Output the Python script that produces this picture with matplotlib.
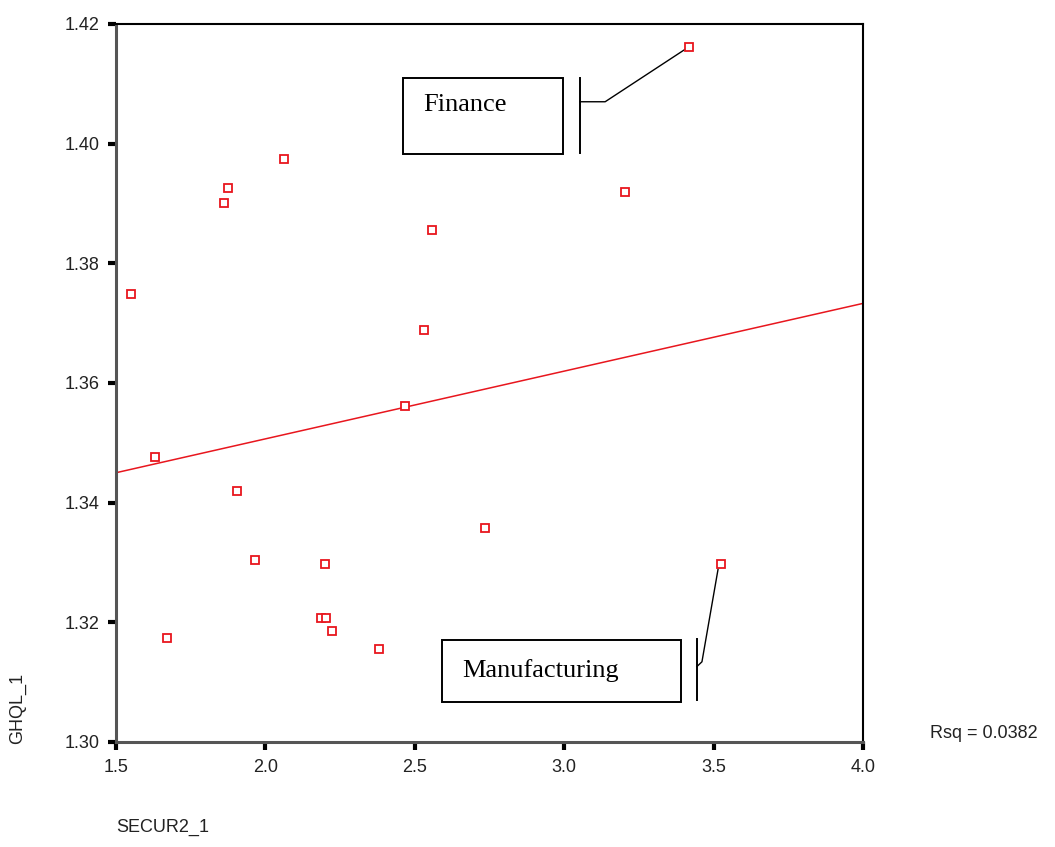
import numpy as np
import matplotlib
matplotlib.use("Agg")
import matplotlib.pyplot as plt
from matplotlib.patches import Rectangle

# --- data ---
secur2 = [3.418, 2.062, 1.875, 1.861, 3.203, 2.558, 1.550, 2.531, 2.467, 1.630,
          1.905, 2.735, 1.965, 2.199, 3.525, 2.186, 2.203, 2.223, 1.671, 2.380]
ghql = [1.4162, 1.3974, 1.3926, 1.3901, 1.3919, 1.3856, 1.3748, 1.3688, 1.3561, 1.3476,
        1.3419, 1.3357, 1.3304, 1.3297, 1.3297, 1.3208, 1.3208, 1.3185, 1.3173, 1.3155]

# fit line as drawn on the chart
fit_x = [1.5, 4.0]
fit_y = [1.3450, 1.3733]
rsq_text = "Rsq = 0.0382"

x_ticks = [1.5, 2.0, 2.5, 3.0, 3.5, 4.0]
y_ticks = [1.30, 1.32, 1.34, 1.36, 1.38, 1.40, 1.42]

fig = plt.figure(figsize=(10.55, 8.47), dpi=100)
ax = fig.add_axes([0.110, 0.124, 0.708, 0.8477])

red = "#e8161e"
sans = "Liberation Sans"
serif = "Liberation Serif"

ax.plot(fit_x, fit_y, color=red, lw=1.1, zorder=2)
ax.plot(secur2, ghql, linestyle="none", marker="s", markersize=5.5,
        markerfacecolor="white", markeredgecolor=red, markeredgewidth=1.3, zorder=3)

ax.set_xlim(1.5, 4.0)
ax.set_ylim(1.30, 1.42)
ax.set_xticks(x_ticks)
ax.set_yticks(y_ticks)
ax.set_xticklabels([f"{v:.1f}" for v in x_ticks])
ax.set_yticklabels([f"{v:.2f}" for v in y_ticks])

for side in ("left", "bottom"):
    ax.spines[side].set_color("#555555")
    ax.spines[side].set_linewidth(2.2)
for side in ("top", "right"):
    ax.spines[side].set_color("black")
    ax.spines[side].set_linewidth(1.5)

ax.tick_params(direction="out", length=6, width=3, color="black",
               labelsize=13, pad=6)
for lab in ax.get_xticklabels() + ax.get_yticklabels():
    lab.set_fontfamily(sans)
    lab.set_color("#222222")

# SPSS-style axis titles placed at the lower-left
fig.text(18 / 1055, 1 - 708 / 847, "GHQL_1", rotation=90, ha="center", va="center",
         fontsize=13, family=sans, color="#222222")
fig.text(116 / 1055, 1 - 827 / 847, "SECUR2_1", ha="left", va="center",
         fontsize=13, family=sans, color="#222222")
fig.text(930 / 1055, 1 - 733 / 847, rsq_text, ha="left", va="center",
         fontsize=13, family=sans, color="#222222")

# annotation boxes
ax.add_patch(Rectangle((2.461, 1.3983), 0.535, 0.0127, fill=False, ec="black",
                       lw=1.4, zorder=4, clip_on=False))
ax.text(2.528, 1.4064, "Finance", fontsize=19, family=serif, va="center", ha="left")
ax.plot([3.053, 3.053], [1.3984, 1.4110], color="black", lw=1.4)
ax.plot([3.053, 3.137, 3.418], [1.4070, 1.4070, 1.4162], color="black", lw=1.0)

ax.add_patch(Rectangle((2.591, 1.3066), 0.800, 0.0104, fill=False, ec="black",
                       lw=1.4, zorder=4, clip_on=False))
ax.text(2.658, 1.3120, "Manufacturing", fontsize=19, family=serif, va="center", ha="left")
ax.plot([3.444, 3.444], [1.3070, 1.3172], color="black", lw=1.4)
ax.plot([3.444, 3.461, 3.515], [1.3126, 1.3134, 1.3289], color="black", lw=1.0)

fig.savefig("out.png", dpi=100)
